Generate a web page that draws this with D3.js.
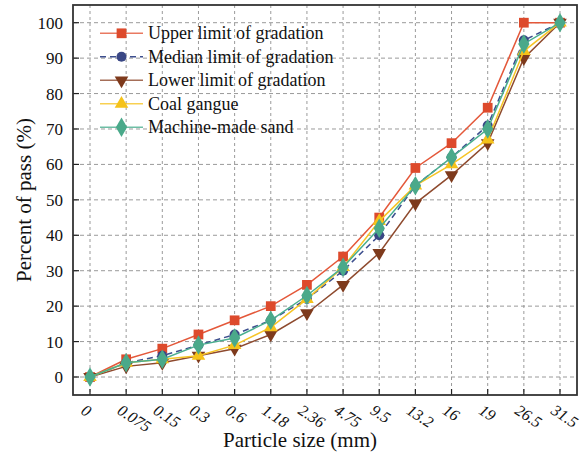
<!DOCTYPE html>
<html>
<head>
<meta charset="utf-8">
<script src="https://cdn.jsdelivr.net/npm/d3@7"></script>
</head>
<body style="margin:0">
<svg id="chart" width="581" height="459"></svg>
<script>
// Sieve sizes (mm) and cumulative percent passing
const sizes = ["0", "0.075", "0.15", "0.3", "0.6", "1.18", "2.36", "4.75", "9.5", "13.2", "16", "19", "26.5", "31.5"];
const upperLimit  = [0, 5, 8, 12, 16, 20, 26, 34, 45, 59, 66, 76, 100, 100];
const medianLimit = [0, 4, 6, 9, 12, 16, 22, 30, 40, 54, 62, 71, 95, 100];
const lowerLimit  = [0, 3, 4, 6, 8, 12, 18, 26, 35, 49, 57, 66, 90, 100];
const coalGangue  = [0, 4, 5, 6, 9, 14, 22, 31, 44, 54, 60, 67, 92, 100];
const machineSand = [0, 4, 5, 9, 11, 16, 23, 31, 42, 54, 62, 70, 94, 100];
const yTicks = [0, 10, 20, 30, 40, 50, 60, 70, 80, 90, 100];

const series = [
  { name: "Upper limit of gradation",  values: upperLimit,  line: "#e4583a", mark: "#dd4a2c", symbol: d3.symbolSquare,   size: 95,  dash: null },
  { name: "Median limit of gradation", values: medianLimit, line: "#3d4f8e", mark: "#3a4785", symbol: d3.symbolCircle,   size: 80,  dash: "6,4" },
  { name: "Lower limit of gradation",  values: lowerLimit,  line: "#8e4a2e", mark: "#7e3a1c", symbol: d3.symbolTriangle, size: 80,  dash: null, flip: true },
  { name: "Coal gangue",               values: coalGangue,  line: "#f6c425", mark: "#f5c21a", symbol: d3.symbolTriangle, size: 80,  dash: null },
  { name: "Machine-made sand",         values: machineSand, line: "#4aae8f", mark: "#4aa98a", symbol: d3.symbolDiamond,  size: 110, dash: null }
];

const svg = d3.select("#chart");
const box = { left: 73, right: 577, top: 5, bottom: 395 };

const x = d3.scalePoint().domain(sizes).range([90, 560]);
const y = d3.scaleLinear().domain([0, 100]).range([377, 22.7]);

// every text sits directly on the svg root in the serif face
function addText(txt, px, italic) {
  return svg.append("text")
    .attr("font-family", "Liberation Serif")
    .attr("font-style", italic ? "italic" : "normal")
    .attr("font-size", px)
    .attr("fill", "#111")
    .text(txt);
}

// grid
const grid = svg.append("g");
grid.selectAll(".gx").data(sizes).enter().append("line")
  .attr("x1", d => x(d)).attr("x2", d => x(d))
  .attr("y1", box.top).attr("y2", box.bottom)
  .attr("stroke", "#9a9a9a").attr("stroke-width", 1).attr("stroke-dasharray", "3,3");
grid.selectAll(".gy").data(yTicks).enter().append("line")
  .attr("x1", box.left).attr("x2", box.right)
  .attr("y1", d => y(d)).attr("y2", d => y(d))
  .attr("stroke", "#9a9a9a").attr("stroke-width", 1).attr("stroke-dasharray", "4,3");

// inward tick marks along the bottom
svg.append("g").selectAll("line").data(sizes).enter().append("line")
  .attr("x1", d => x(d)).attr("x2", d => x(d))
  .attr("y1", box.bottom).attr("y2", box.bottom - 6)
  .attr("stroke", "#222").attr("stroke-width", 1.2);

// inward tick marks on the left
svg.append("g").selectAll("line").data(yTicks).enter().append("line")
  .attr("x1", box.left).attr("x2", box.left + 6)
  .attr("y1", d => y(d)).attr("y2", d => y(d))
  .attr("stroke", "#222").attr("stroke-width", 1.2);

// frame
svg.append("rect")
  .attr("x", box.left).attr("y", box.top)
  .attr("width", box.right - box.left).attr("height", box.bottom - box.top)
  .attr("fill", "none").attr("stroke", "#333").attr("stroke-width", 1.8);

// y tick labels
yTicks.forEach(t => {
  addText(t, 17, false)
    .attr("x", box.left - 10).attr("y", y(t) + 6)
    .attr("text-anchor", "end");
});

// rotated italic size labels
sizes.forEach(s => {
  addText(s, 16, true)
    .attr("transform", `translate(${x(s) - 10},413) rotate(33)`)
    .attr("text-anchor", "start");
});

// axis titles
addText("Particle size (mm)", 21, false)
  .attr("x", 300).attr("y", 447).attr("text-anchor", "middle");
addText("Percent of pass (%)", 21, false)
  .attr("transform", "translate(31,200) rotate(-90)").attr("text-anchor", "middle");

const lineGen = d3.line().x((v, i) => x(sizes[i])).y(v => y(v));

function marker(sel, s) {
  sel.attr("d", d3.symbol().type(s.symbol).size(s.size))
    .attr("fill", s.mark);
}

// series lines and markers
series.forEach(s => {
  const g = svg.append("g");
  g.append("path").datum(s.values)
    .attr("d", lineGen).attr("fill", "none")
    .attr("stroke", s.line).attr("stroke-width", 1.5)
    .attr("stroke-dasharray", s.dash);
  g.selectAll("path.pt").data(s.values).enter().append("path")
    .attr("class", "pt")
    .attr("transform", (v, i) => `translate(${x(sizes[i])},${y(v)})${s.flip ? " rotate(180)" : ""}`)
    .call(marker, s);
});

// legend
series.forEach((s, i) => {
  const cy = 33.3 + i * 23.5;
  svg.append("line")
    .attr("x1", 100).attr("x2", 143).attr("y1", cy).attr("y2", cy)
    .attr("stroke", s.line).attr("stroke-width", 1.6)
    .attr("stroke-opacity", s.dash ? 1 : 0.8)
    .attr("stroke-dasharray", s.dash);
  svg.append("path")
    .attr("transform", `translate(121.5,${cy})${s.flip ? " rotate(180)" : ""}`)
    .call(marker, s);
  addText(s.name, 18, false)
    .attr("x", 148).attr("y", cy + 6);
});
</script>
</body>
</html>
